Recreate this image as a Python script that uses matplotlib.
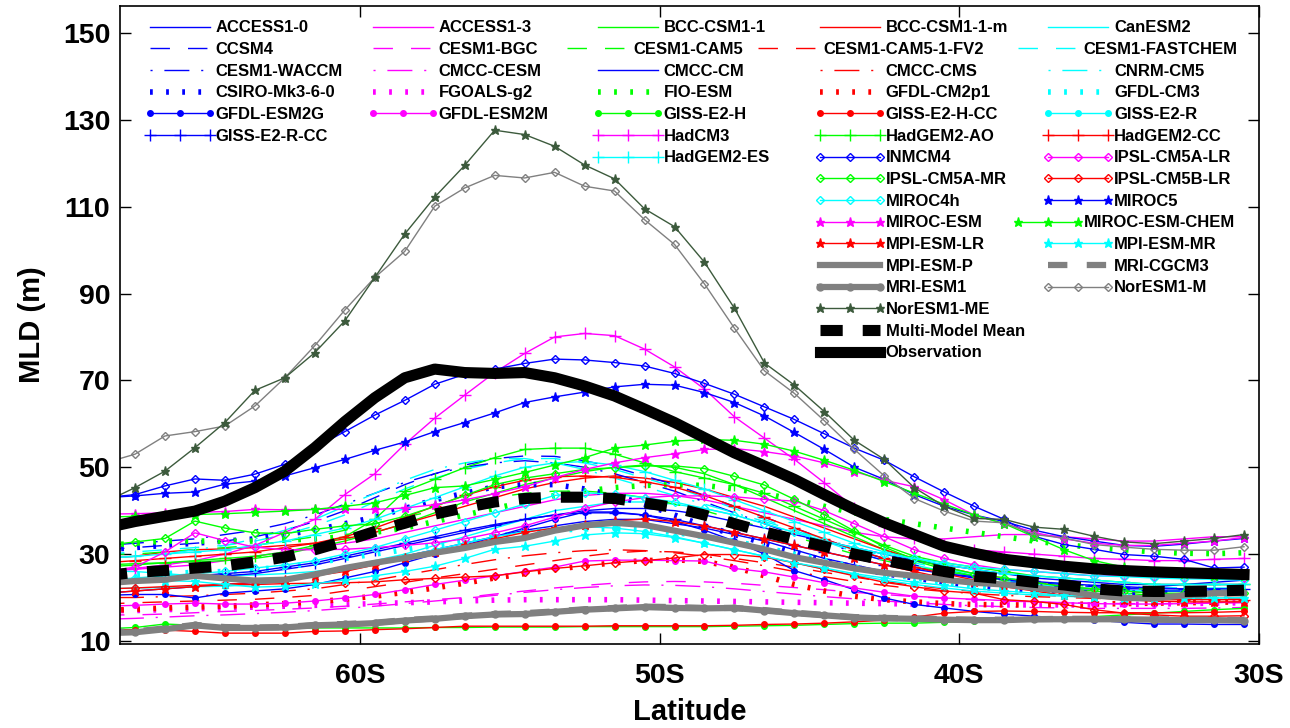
import matplotlib
matplotlib.use('Agg')
import matplotlib.pyplot as plt
from matplotlib.lines import Line2D
from matplotlib.legend import Legend
from matplotlib.legend_handler import HandlerLine2D

plt.rcParams['font.family'] = ['Liberation Sans', 'DejaVu Sans']

# ---------------- data (MLD in m, latitude in degrees; negative = South) -------------
lat = [-68.5, -67.5, -66.5, -65.5, -64.5, -63.5, -62.5, -61.5, -60.5, -59.5,
       -58.5, -57.5, -56.5, -55.5, -54.5, -53.5, -52.5, -51.5, -50.5, -49.5,
       -48.5, -47.5, -46.5, -45.5, -44.5, -43.5, -42.5, -41.5, -40.5, -39.5,
       -38.5, -37.5, -36.5, -35.5, -34.5, -33.5, -32.5, -31.5, -30.5]

access10 = [21.0, 21.5, 22.0, 22.5, 23.0, 23.5, 24.0, 25.0, 26.5, 28.0,
            29.5, 31.0, 32.5, 34.0, 35.5, 36.5, 37.5, 38.0, 38.0, 37.0,
            36.0, 34.5, 33.0, 31.0, 29.0, 27.5, 26.0, 25.0, 24.0, 23.5,
            23.0, 22.5, 22.0, 22.0, 22.0, 22.5, 23.0, 23.5, 24.0]
access13 = [26.0, 26.5, 27.0, 27.5, 28.5, 29.5, 30.5, 31.5, 32.5, 33.5,
            35.0, 36.5, 38.0, 39.5, 41.0, 42.5, 43.5, 44.0, 44.0, 43.5,
            42.5, 41.0, 39.5, 38.0, 36.5, 35.0, 34.0, 33.5, 33.5, 34.0,
            34.5, 34.5, 34.0, 33.5, 33.0, 33.0, 33.5, 34.0, 34.0]
bcc = [27.5, 27.8, 28.0, 28.2, 28.5, 29.0, 30.0, 31.5, 33.0, 35.0,
       37.0, 39.5, 42.0, 44.0, 46.0, 47.5, 49.0, 50.0, 50.5, 50.0,
       48.5, 46.0, 43.0, 40.0, 37.0, 34.0, 31.0, 28.5, 26.5, 25.0,
       24.0, 23.0, 22.0, 21.5, 21.0, 20.5, 20.5, 20.5, 20.5]
bcc_m = [29.0, 29.5, 30.5, 31.0, 31.2, 31.5, 32.0, 32.5, 33.5, 35.0,
         37.0, 39.0, 41.0, 43.0, 45.0, 46.5, 47.5, 48.0, 47.5, 46.5,
         45.0, 43.0, 41.0, 38.5, 36.0, 33.5, 31.0, 29.0, 27.0, 25.5,
         24.5, 23.5, 22.5, 22.0, 21.5, 21.0, 20.5, 20.5, 20.5]
canesm2 = [26.0, 26.0, 25.5, 25.0, 25.0, 25.2, 25.5, 26.0, 27.0, 28.5,
           30.0, 32.0, 34.0, 36.0, 38.0, 40.0, 41.0, 42.0, 42.0, 41.5,
           40.5, 39.0, 37.0, 35.0, 33.0, 31.0, 29.0, 27.5, 26.0, 25.0,
           24.0, 23.0, 22.5, 22.0, 21.5, 21.5, 21.5, 21.5, 21.5]
ccsm4 = [31.0, 31.5, 32.0, 32.5, 33.0, 34.0, 35.5, 37.5, 40.0, 43.0,
         46.0, 48.5, 50.5, 52.0, 52.6, 52.5, 51.5, 50.0, 48.0, 46.0,
         43.5, 41.0, 38.5, 36.0, 33.5, 31.0, 29.0, 27.5, 26.0, 25.0,
         24.0, 23.5, 23.0, 22.5, 22.0, 22.0, 22.0, 22.0, 22.0]
cesm_bgc = [16.0, 16.0, 16.2, 16.5, 16.8, 17.0, 17.3, 17.6, 18.0, 18.5,
            19.0, 19.5, 20.0, 20.8, 21.5, 22.2, 22.8, 23.3, 23.6, 23.7,
            23.6, 23.3, 22.8, 22.3, 21.8, 21.2, 20.7, 20.2, 19.8, 19.5,
            19.2, 19.0, 18.8, 18.7, 18.6, 18.6, 18.6, 18.7, 18.8]
cesm_cam5 = [30.0, 30.0, 30.5, 31.0, 31.5, 32.0, 33.0, 34.0, 35.5, 37.0,
             38.5, 40.0, 41.5, 43.0, 44.0, 44.5, 44.5, 44.0, 43.0, 41.5,
             40.0, 38.0, 36.0, 34.0, 32.0, 30.0, 28.5, 27.0, 26.0, 25.0,
             24.0, 23.5, 23.0, 22.5, 22.0, 22.0, 22.0, 22.0, 22.0]
cesm_fv2 = [18.5, 18.8, 19.0, 19.2, 19.4, 19.6, 20.0, 20.5, 21.5, 22.5,
            23.5, 24.5, 25.5, 26.5, 27.5, 28.5, 29.5, 30.3, 30.7, 30.5,
            30.0, 29.0, 28.0, 27.0, 25.8, 24.7, 23.7, 22.8, 22.0, 21.4,
            21.0, 20.6, 20.3, 20.1, 20.0, 20.0, 20.0, 20.0, 20.0]
cesm_fastchem = [30.0, 30.5, 31.0, 31.5, 32.0, 33.0, 34.5, 36.5, 39.0, 42.0,
                 45.0, 47.5, 49.5, 51.0, 52.0, 52.0, 51.0, 49.5, 47.5, 45.5,
                 43.0, 40.5, 38.0, 35.5, 33.0, 30.5, 28.5, 27.0, 25.5, 24.5,
                 23.5, 23.0, 22.5, 22.0, 21.5, 21.5, 21.5, 21.5, 21.5]
cesm_waccm = [32.0, 32.5, 33.0, 33.5, 34.5, 35.5, 37.0, 39.0, 41.5, 44.0,
              46.5, 48.5, 50.0, 51.0, 51.5, 51.0, 50.0, 48.5, 46.5, 44.5,
              42.0, 39.5, 37.0, 34.5, 32.5, 30.5, 28.5, 27.0, 25.5, 24.5,
              23.5, 23.0, 22.5, 22.0, 21.8, 21.5, 21.5, 21.5, 21.5]
cmcc_cesm = [15.0, 15.2, 15.5, 15.8, 16.0, 16.3, 16.6, 17.0, 17.5, 18.0,
             18.6, 19.2, 19.8, 20.5, 21.2, 21.8, 22.3, 22.7, 22.9, 22.8,
             22.5, 22.0, 21.4, 20.8, 20.2, 19.7, 19.2, 18.8, 18.4, 18.1,
             17.9, 17.7, 17.6, 17.5, 17.5, 17.5, 17.5, 17.6, 17.7]
cmcc_cm = [23.0, 23.5, 24.0, 24.5, 25.0, 25.5, 26.5, 27.5, 29.0, 30.5,
           32.0, 33.5, 35.0, 36.5, 38.0, 39.0, 40.0, 40.5, 40.5, 40.0,
           39.0, 37.5, 36.0, 34.5, 33.0, 31.5, 30.0, 28.5, 27.5, 26.5,
           25.5, 24.5, 24.0, 23.5, 23.0, 23.0, 23.0, 23.0, 23.0]
cmcc_cms = [20.0, 20.0, 20.2, 20.4, 20.7, 21.0, 21.5, 22.0, 23.0, 24.0,
            25.2, 26.4, 27.6, 28.7, 29.6, 30.3, 30.8, 31.0, 30.8, 30.3,
            29.5, 28.5, 27.3, 26.0, 24.8, 23.7, 22.8, 22.0, 21.4, 20.9,
            20.5, 20.2, 20.0, 19.8, 19.7, 19.7, 19.7, 19.8, 19.9]
cnrm_cm5 = [29.0, 29.5, 30.0, 31.0, 32.0, 33.5, 35.5, 38.0, 41.0, 44.0,
            47.0, 49.5, 51.0, 52.0, 52.0, 51.0, 49.5, 47.5, 45.5, 43.5,
            41.5, 39.5, 37.5, 35.5, 33.5, 31.5, 29.5, 28.0, 26.5, 25.5,
            24.5, 23.8, 23.2, 22.8, 22.5, 22.3, 22.2, 22.2, 22.2]
csiro = [31.0, 31.5, 32.0, 32.5, 33.0, 33.5, 34.5, 35.5, 37.0, 38.5,
         40.5, 42.5, 44.0, 45.5, 46.0, 46.0, 45.0, 43.5, 41.5, 39.0,
         36.5, 34.5, 32.5, 30.5, 28.5, 27.0, 25.5, 24.5, 23.5, 22.5,
         22.0, 21.5, 21.0, 21.0, 21.0, 21.0, 21.0, 21.0, 21.0]
fgoals = [17.0, 17.0, 17.2, 17.4, 17.6, 17.8, 18.0, 18.2, 18.4, 18.6,
          18.8, 19.0, 19.2, 19.4, 19.5, 19.5, 19.5, 19.5, 19.4, 19.3,
          19.2, 19.1, 19.0, 18.9, 18.8, 18.7, 18.6, 18.5, 18.4, 18.3,
          18.3, 18.3, 18.3, 18.3, 18.4, 18.5, 18.6, 18.7, 18.8]
fio_esm = [32.0, 32.5, 33.0, 33.0, 33.0, 33.0, 33.2, 33.5, 34.0, 35.0,
           36.0, 37.5, 39.0, 40.5, 42.0, 43.5, 44.5, 45.3, 45.8, 46.0,
           45.8, 45.0, 44.0, 42.5, 41.0, 39.5, 38.0, 37.0, 36.0, 35.0,
           34.0, 33.0, 32.2, 31.5, 31.0, 30.5, 30.2, 30.1, 30.3]
gfdl_cm2p1 = [17.0, 17.3, 17.6, 17.8, 18.0, 18.3, 18.6, 19.0, 19.6, 20.3,
              21.2, 22.2, 23.3, 24.5, 25.5, 26.5, 27.3, 28.0, 28.5, 28.7,
              28.3, 27.0, 25.0, 23.0, 21.5, 20.3, 19.5, 19.0, 18.6, 18.4,
              18.3, 18.3, 18.4, 18.5, 18.6, 18.7, 18.8, 18.9, 19.0]
gfdl_cm3 = [25.0, 25.2, 25.5, 25.8, 26.0, 26.5, 27.0, 28.0, 29.0, 30.0,
            31.0, 32.0, 33.0, 34.0, 35.0, 35.5, 35.8, 35.8, 35.5, 35.0,
            34.0, 33.0, 31.5, 30.0, 28.5, 27.0, 25.5, 24.5, 23.5, 22.5,
            22.0, 21.5, 21.0, 20.5, 20.3, 20.2, 20.2, 20.2, 20.3]
gfdl_esm2g = [20.5, 20.7, 20.7, 19.9, 21.0, 21.5, 22.0, 23.0, 24.5, 26.0,
              28.0, 30.0, 32.0, 34.0, 36.0, 38.0, 39.7, 39.7, 39.0, 37.5,
              35.5, 33.0, 30.0, 26.2, 24.1, 21.8, 19.9, 18.4, 17.6, 16.8,
              16.2, 15.7, 15.2, 14.8, 14.3, 13.9, 13.9, 13.8, 13.8]
gfdl_esm2m = [18.0, 18.2, 18.5, 18.7, 18.5, 18.5, 18.7, 19.2, 19.9, 20.7,
              21.8, 23.0, 24.0, 25.0, 26.0, 27.0, 28.4, 28.6, 28.6, 28.5,
              28.4, 26.7, 25.9, 24.7, 23.4, 22.2, 21.2, 20.3, 19.9, 19.6,
              19.3, 19.0, 18.8, 18.6, 18.5, 18.5, 18.6, 18.8, 19.0]
giss_h = [12.8, 13.1, 13.9, 13.6, 13.2, 13.0, 13.0, 13.0, 13.0, 13.0,
          13.0, 13.1, 13.1, 13.2, 13.2, 13.2, 13.3, 13.3, 13.3, 13.3,
          13.3, 13.4, 13.5, 13.6, 13.8, 14.0, 14.1, 14.1, 14.3, 14.5,
          14.8, 15.0, 15.3, 15.6, 16.0, 16.4, 16.8, 17.2, 17.5]
giss_h_cc = [12.5, 12.6, 12.5, 12.2, 11.8, 11.8, 11.8, 12.2, 12.3, 12.6,
             12.8, 13.1, 13.4, 13.4, 13.4, 13.4, 13.4, 13.5, 13.5, 13.5,
             13.5, 13.6, 13.8, 13.9, 14.1, 14.4, 14.8, 15.5, 16.4, 16.8,
             16.9, 16.8, 16.6, 16.5, 16.5, 16.5, 16.5, 16.6, 16.8]
giss_r = [22.0, 22.2, 22.3, 22.5, 22.6, 23.0, 23.8, 25.0, 26.5, 28.0,
          29.5, 31.0, 32.5, 34.0, 35.2, 36.0, 36.3, 36.0, 35.2, 34.0,
          32.5, 31.0, 29.5, 28.0, 26.5, 25.2, 24.0, 23.0, 22.2, 21.5,
          21.0, 20.6, 20.3, 20.0, 19.8, 19.7, 19.6, 19.6, 19.6]
giss_r_cc = [24.0, 24.2, 24.5, 25.0, 25.5, 26.0, 27.0, 28.0, 29.5, 31.0,
             32.5, 34.0, 35.5, 36.8, 38.0, 39.0, 39.5, 39.5, 39.0, 38.0,
             36.5, 35.0, 33.5, 32.0, 30.5, 29.0, 27.5, 26.5, 25.5, 24.8,
             24.2, 23.7, 23.2, 22.8, 22.5, 22.2, 22.0, 22.0, 22.0]
hadcm3 = [26.0, 26.7, 27.5, 28.5, 30.0, 32.0, 35.0, 38.0, 43.7, 48.5,
          55.3, 61.3, 66.6, 71.8, 76.2, 80.0, 80.8, 80.3, 77.2, 73.1,
          68.0, 61.6, 56.7, 51.8, 46.4, 40.7, 36.5, 33.8, 32.0, 31.0,
          30.5, 30.0, 29.5, 29.0, 28.8, 28.5, 28.5, 28.8, 29.0]
hadgem2_ao = [27.0, 27.5, 28.0, 28.5, 29.0, 29.5, 30.5, 32.0, 34.0, 38.0,
              44.5, 47.2, 49.9, 52.2, 54.1, 54.4, 54.4, 53.0, 51.0, 49.0,
              47.5, 46.0, 44.0, 41.0, 38.0, 35.0, 32.0, 29.5, 28.0, 27.0,
              26.0, 25.0, 24.5, 24.0, 23.5, 23.0, 23.0, 23.0, 23.0]
hadgem2_cc = [28.0, 28.5, 29.0, 29.5, 30.0, 30.5, 31.5, 32.5, 34.0, 36.0,
              38.5, 41.0, 43.5, 45.5, 47.0, 47.8, 48.0, 47.7, 46.7, 45.4,
              43.5, 41.0, 38.5, 36.0, 33.5, 31.0, 29.0, 27.0, 25.5, 24.0,
              23.0, 22.0, 21.0, 20.5, 20.0, 19.5, 19.5, 19.5, 19.5]
hadgem2_es = [29.0, 29.5, 30.0, 30.5, 31.0, 32.0, 33.0, 34.5, 36.0, 38.0,
              40.5, 43.0, 45.5, 48.0, 50.0, 51.0, 51.3, 50.5, 49.0, 47.0,
              45.0, 42.5, 40.0, 37.5, 35.0, 32.5, 30.5, 29.0, 27.5, 26.5,
              25.5, 25.0, 24.5, 24.0, 23.5, 23.0, 23.0, 23.0, 23.0]
inmcm4 = [43.0, 43.7, 45.7, 47.3, 47.0, 48.4, 50.7, 54.5, 58.2, 62.0,
          65.4, 69.1, 71.4, 72.6, 73.9, 74.9, 74.7, 74.1, 73.3, 71.6,
          69.3, 66.8, 63.9, 61.0, 57.7, 54.4, 51.6, 47.8, 44.3, 41.0,
          38.0, 34.1, 32.2, 31.1, 29.9, 29.5, 28.8, 26.8, 27.0]
ipsl_cm5a_lr = [26.0, 27.0, 30.5, 34.9, 33.1, 31.6, 31.0, 31.0, 31.1, 31.5,
                32.0, 32.6, 33.5, 34.9, 36.5, 38.5, 40.5, 42.0, 43.0, 43.4,
                43.4, 43.2, 42.6, 42.2, 40.0, 37.0, 34.0, 31.0, 29.0, 27.5,
                26.5, 26.0, 25.5, 25.0, 25.0, 24.8, 24.5, 24.5, 24.5]
ipsl_cm5a_mr = [32.0, 32.8, 33.6, 37.6, 36.0, 34.9, 34.7, 35.7, 36.5, 37.0,
                38.7, 41.0, 43.5, 46.0, 47.5, 48.5, 49.5, 49.9, 50.3, 50.3,
                49.7, 47.9, 45.9, 42.6, 39.1, 35.3, 31.6, 28.8, 27.0, 25.5,
                24.5, 23.5, 22.5, 22.0, 21.5, 21.0, 21.0, 21.0, 21.0]
ipsl_cm5b_lr = [22.0, 22.2, 22.5, 22.8, 23.0, 23.0, 23.2, 23.3, 23.4, 23.6,
                24.1, 24.4, 24.7, 25.0, 25.9, 26.7, 27.3, 28.0, 28.5, 29.1,
                29.9, 29.9, 29.3, 28.0, 26.5, 25.0, 23.5, 22.5, 21.5, 21.0,
                19.5, 19.1, 18.4, 17.2, 16.4, 16.0, 15.7, 15.7, 15.8]
miroc4h = [24.0, 24.5, 25.0, 25.5, 26.0, 26.8, 27.5, 28.5, 30.0, 31.5,
           33.5, 35.5, 37.5, 39.5, 41.5, 43.5, 44.1, 43.8, 43.0, 42.0,
           40.5, 39.0, 37.0, 35.0, 33.0, 31.5, 30.0, 29.0, 28.0, 27.0,
           26.5, 26.0, 25.5, 25.0, 24.8, 24.5, 24.3, 24.2, 24.0]
miroc5 = [43.0, 43.4, 44.0, 44.3, 46.1, 46.8, 48.0, 49.9, 51.8, 53.9,
          55.8, 58.2, 60.3, 62.5, 64.9, 66.2, 67.3, 68.5, 69.1, 68.9,
          67.2, 64.9, 61.8, 58.0, 54.1, 50.0, 47.2, 43.7, 41.0, 39.0,
          37.5, 35.5, 34.0, 33.0, 32.0, 31.8, 32.3, 33.0, 33.6]
miroc_esm = [39.2, 39.3, 39.5, 39.6, 39.8, 40.3, 40.2, 40.3, 40.3, 40.3,
             40.6, 41.4, 42.5, 43.9, 45.5, 47.6, 49.5, 51.0, 52.2, 53.1,
             54.1, 54.3, 53.6, 52.6, 51.0, 49.0, 47.0, 45.5, 42.5, 39.0,
             37.0, 35.0, 33.5, 32.5, 32.0, 32.0, 32.5, 33.0, 33.8]
miroc_esm_chem = [38.5, 38.7, 38.9, 39.1, 39.3, 39.6, 39.9, 40.3, 41.0, 41.8,
                  43.5, 45.3, 45.7, 47.2, 48.8, 50.5, 52.2, 54.4, 55.1, 56.0,
                  56.4, 56.2, 55.3, 53.7, 51.6, 49.3, 46.7, 44.0, 41.5, 39.0,
                  37.0, 34.0, 31.0, 28.5, 27.0, 26.0, 25.5, 25.0, 25.0]
mpi_esm_lr = [21.0, 21.5, 22.0, 22.5, 23.0, 23.5, 24.0, 25.0, 26.0, 27.5,
              29.0, 30.5, 32.0, 33.5, 35.0, 36.0, 36.6, 37.6, 38.1, 37.5,
              36.5, 35.0, 33.5, 32.0, 30.5, 29.0, 27.5, 26.0, 24.5, 23.5,
              22.5, 21.5, 20.5, 20.0, 19.5, 19.2, 19.0, 19.0, 19.0]
mpi_esm_mr = [24.5, 24.2, 23.9, 23.7, 23.0, 22.4, 22.6, 23.2, 24.0, 25.0,
              26.0, 27.2, 29.0, 31.1, 31.8, 33.0, 34.4, 34.9, 34.7, 33.8,
              32.5, 31.0, 29.5, 28.0, 26.8, 25.5, 24.5, 23.5, 22.8, 22.0,
              21.5, 21.0, 20.5, 20.2, 20.0, 19.9, 19.9, 19.9, 20.0]
mpi_esm_p = [23.3, 23.8, 24.1, 25.0, 24.4, 23.9, 24.1, 25.3, 26.8, 28.0,
             29.1, 30.3, 31.4, 32.8, 33.7, 35.4, 36.6, 37.2, 36.7, 35.4,
             34.1, 32.6, 31.1, 29.3, 28.0, 26.7, 25.7, 25.0, 24.1, 23.4,
             23.0, 22.2, 21.6, 20.5, 19.9, 19.8, 20.5, 21.0, 21.0]
mri_cgcm3 = [12.0, 12.2, 12.9, 13.7, 13.2, 13.1, 13.2, 13.7, 13.9, 14.2,
             14.8, 15.2, 15.8, 16.2, 16.4, 16.8, 17.3, 17.6, 17.9, 17.8,
             17.6, 17.6, 17.1, 16.5, 16.0, 15.5, 15.3, 15.2, 15.0, 14.9,
             14.9, 15.0, 15.1, 15.1, 15.0, 15.0, 14.9, 14.9, 14.8]
mri_esm1 = [11.8, 12.0, 12.7, 13.6, 13.0, 13.0, 13.1, 13.6, 13.8, 14.1,
            14.7, 15.1, 15.7, 16.1, 16.2, 16.7, 17.2, 17.5, 17.8, 17.6,
            17.5, 17.6, 17.0, 16.4, 15.9, 15.4, 15.2, 15.1, 14.9, 14.8,
            14.8, 15.0, 15.0, 15.0, 15.0, 14.9, 14.8, 14.8, 14.7]
noresm1_m = [51.0, 53.0, 57.2, 58.2, 59.5, 64.1, 70.6, 78.0, 86.2, 93.7,
             99.7, 110.1, 114.3, 117.2, 116.6, 117.9, 114.7, 113.6, 107.0, 101.3,
             92.2, 82.0, 72.2, 67.0, 60.7, 54.1, 48.0, 42.8, 39.9, 37.6,
             37.2, 34.5, 33.7, 32.2, 31.6, 31.1, 30.9, 30.9, 31.7]
noresm1_me = [42.0, 45.3, 49.1, 54.5, 60.3, 67.7, 70.6, 76.4, 83.7, 93.7,
              103.7, 112.2, 119.5, 127.6, 126.6, 123.9, 119.6, 116.4, 109.5, 105.4,
              97.2, 86.6, 74.0, 68.9, 62.8, 56.2, 51.8, 45.3, 41.0, 38.2,
              38.0, 36.2, 35.7, 34.1, 32.8, 32.4, 33.0, 33.6, 34.5]
multi_model_mean = [25.0, 25.8, 26.2, 26.8, 27.3, 28.2, 29.3, 31.0, 33.0, 35.2,
                    37.1, 39.2, 40.7, 42.0, 42.8, 43.1, 43.1, 42.8, 41.8, 40.7,
                    39.0, 37.0, 35.1, 33.4, 31.8, 30.0, 28.6, 27.2, 26.0, 24.9,
                    24.3, 23.5, 22.9, 22.0, 21.5, 21.4, 21.4, 21.5, 21.7]
observation = [36.0, 37.5, 38.7, 39.9, 42.2, 45.3, 49.1, 54.5, 60.5, 66.0,
               70.6, 72.6, 71.8, 71.6, 71.8, 70.6, 68.7, 66.4, 63.4, 60.3,
               56.8, 53.3, 50.3, 47.2, 43.7, 40.3, 37.2, 34.5, 31.8, 30.2,
               28.8, 28.0, 27.2, 26.6, 26.2, 25.9, 25.7, 25.5, 25.3]

x_ticks = [-60, -50, -40, -30]
x_ticklabels = ['60S', '50S', '40S', '30S']
y_ticks = [10, 30, 50, 70, 90, 110, 130, 150]

# ---------------- styles ----------------
BLUE, MAG, GRN, RED, CYN = '#0000ff', '#ff00ff', '#00ff00', '#ff0000', '#00ffff'
GRAY, DKG = '#808080', '#3c5a3c'

SOLID = dict(ls='-', lw=1.0)
DASH = dict(ls=(0, (14, 13)), lw=1.0)
DASHDOT = dict(ls=(0, (1.5, 8.5, 18, 8.5)), lw=1.0)
DOT = dict(ls=(0, (0.5, 2.4)), lw=4.0)
DOTM = dict(ls='-', lw=1.0, marker='o', ms=4)
PLUS = dict(ls='-', lw=1.0, marker='+', ms=8, mew=1.0)
DIAM = dict(ls='-', lw=1.0, marker='D', ms=4.5, mfc='none', mew=1.0)
STAR = dict(ls='-', lw=1.0, marker='*', ms=6.5)

models = [
    ('ACCESS1-0', access10, BLUE, SOLID),
    ('ACCESS1-3', access13, MAG, SOLID),
    ('BCC-CSM1-1', bcc, GRN, SOLID),
    ('BCC-CSM1-1-m', bcc_m, RED, SOLID),
    ('CanESM2', canesm2, CYN, SOLID),
    ('CCSM4', ccsm4, BLUE, DASH),
    ('CESM1-BGC', cesm_bgc, MAG, DASH),
    ('CESM1-CAM5', cesm_cam5, GRN, DASH),
    ('CESM1-CAM5-1-FV2', cesm_fv2, RED, DASH),
    ('CESM1-FASTCHEM', cesm_fastchem, CYN, DASH),
    ('CESM1-WACCM', cesm_waccm, BLUE, DASHDOT),
    ('CMCC-CESM', cmcc_cesm, MAG, DASHDOT),
    ('CMCC-CM', cmcc_cm, BLUE, SOLID),
    ('CMCC-CMS', cmcc_cms, RED, DASHDOT),
    ('CNRM-CM5', cnrm_cm5, CYN, DASHDOT),
    ('CSIRO-Mk3-6-0', csiro, BLUE, DOT),
    ('FGOALS-g2', fgoals, MAG, DOT),
    ('FIO-ESM', fio_esm, GRN, DOT),
    ('GFDL-CM2p1', gfdl_cm2p1, RED, DOT),
    ('GFDL-CM3', gfdl_cm3, CYN, DOT),
    ('GFDL-ESM2G', gfdl_esm2g, BLUE, DOTM),
    ('GFDL-ESM2M', gfdl_esm2m, MAG, DOTM),
    ('GISS-E2-H', giss_h, GRN, DOTM),
    ('GISS-E2-H-CC', giss_h_cc, RED, DOTM),
    ('GISS-E2-R', giss_r, CYN, DOTM),
    ('GISS-E2-R-CC', giss_r_cc, BLUE, PLUS),
    ('HadCM3', hadcm3, MAG, PLUS),
    ('HadGEM2-AO', hadgem2_ao, GRN, PLUS),
    ('HadGEM2-CC', hadgem2_cc, RED, PLUS),
    ('HadGEM2-ES', hadgem2_es, CYN, PLUS),
    ('INMCM4', inmcm4, BLUE, DIAM),
    ('IPSL-CM5A-LR', ipsl_cm5a_lr, MAG, DIAM),
    ('IPSL-CM5A-MR', ipsl_cm5a_mr, GRN, DIAM),
    ('IPSL-CM5B-LR', ipsl_cm5b_lr, RED, DIAM),
    ('MIROC4h', miroc4h, CYN, DIAM),
    ('MIROC5', miroc5, BLUE, STAR),
    ('MIROC-ESM', miroc_esm, MAG, STAR),
    ('MIROC-ESM-CHEM', miroc_esm_chem, GRN, STAR),
    ('MPI-ESM-LR', mpi_esm_lr, RED, STAR),
    ('MPI-ESM-MR', mpi_esm_mr, CYN, STAR),
    ('MPI-ESM-P', mpi_esm_p, GRAY, dict(ls='-', lw=4.5)),
    ('MRI-CGCM3', mri_cgcm3, GRAY, dict(ls=(0, (3.1, 3.1)), lw=4.5)),
    ('MRI-ESM1', mri_esm1, GRAY, dict(ls='-', lw=4.5, marker='o', ms=5)),
    ('NorESM1-M', noresm1_m, GRAY, DIAM),
    ('NorESM1-ME', noresm1_me, DKG, STAR),
    ('Multi-Model Mean', multi_model_mean, 'black', dict(ls=(0, (2.0, 1.8)), lw=8)),
    ('Observation', observation, 'black', dict(ls='-', lw=8)),
]

fig = plt.figure(figsize=(12.9, 7.28), dpi=100)
ax = fig.add_axes([120 / 1290, 1 - 644 / 728, 1139 / 1290, 638 / 728])

H = {}
for name, vals, col, sty in models:
    (ln,) = ax.plot(lat, vals, color=col, label=name, **sty)
    H[name] = ln

ax.set_xlim(-68, -30)
ax.set_ylim(9.3, 156.2)
ax.set_xticks(x_ticks)
ax.set_xticklabels(x_ticklabels)
ax.set_yticks(y_ticks)
ax.tick_params(axis='both', direction='in', length=8, width=1.0, top=True, right=True,
               labelsize=20.5)
ax.tick_params(axis='x', pad=14)
ax.tick_params(axis='y', pad=7)
for t in ax.get_xticklabels() + ax.get_yticklabels():
    t.set_fontweight('bold')
for s in ax.spines.values():
    s.set_linewidth(1.2)
ax.set_xlabel('Latitude', fontsize=21, fontweight='bold', labelpad=6)
ax.set_ylabel('MLD (m)', fontsize=21, fontweight='bold', labelpad=12)

# ---------------- legend (several blocks, like the original layout) ----------------
BLANK = Line2D([], [], color='none', lw=0)
handler = {Line2D: HandlerLine2D(marker_pad=0, numpoints=3)}
LEG_Y = 0.9775


def add_block(names, x):
    hs = [BLANK if n is None else H[n] for n in names]
    ls = [' ' if n is None else n for n in names]
    leg = Legend(ax, hs, ls, loc='upper left', bbox_to_anchor=(x, LEG_Y),
                 bbox_transform=ax.transAxes, frameon=False,
                 prop=dict(size=12.0, weight='bold'),
                 handlelength=3.6, handletextpad=0.35, labelspacing=0.40,
                 borderpad=0, borderaxespad=0, handler_map=handler)
    ax.add_artist(leg)


add_block(['ACCESS1-0', 'CCSM4', 'CESM1-WACCM', 'CSIRO-Mk3-6-0', 'GFDL-ESM2G',
           'GISS-E2-R-CC'], 0.0263)
add_block(['ACCESS1-3', 'CESM1-BGC', 'CMCC-CESM', 'FGOALS-g2', 'GFDL-ESM2M'], 0.2221)
add_block(['BCC-CSM1-1', None, 'CMCC-CM', 'FIO-ESM', 'GISS-E2-H', 'HadCM3',
           'HadGEM2-ES'], 0.4197)
add_block([None, 'CESM1-CAM5'], 0.3925)
add_block(['BCC-CSM1-1-m', None, 'CMCC-CMS', 'GFDL-CM2p1', 'GISS-E2-H-CC', 'HadGEM2-AO',
           'INMCM4', 'IPSL-CM5A-MR', 'MIROC4h', 'MIROC-ESM', 'MPI-ESM-LR', 'MPI-ESM-P',
           'MRI-ESM1', 'NorESM1-ME', 'Multi-Model Mean', 'Observation'], 0.6146)
add_block([None, 'CESM1-CAM5-1-FV2'], 0.5601)
add_block(['CanESM2', None, 'CNRM-CM5', 'GFDL-CM3', 'GISS-E2-R', 'HadGEM2-CC',
           'IPSL-CM5A-LR', 'IPSL-CM5B-LR', 'MIROC5', None, 'MPI-ESM-MR', 'MRI-CGCM3',
           'NorESM1-M'], 0.8148)
add_block([None, 'CESM1-FASTCHEM', None, None, None, None, None, None, None,
           'MIROC-ESM-CHEM'], 0.7884)

fig.savefig('out.png', dpi=100)
